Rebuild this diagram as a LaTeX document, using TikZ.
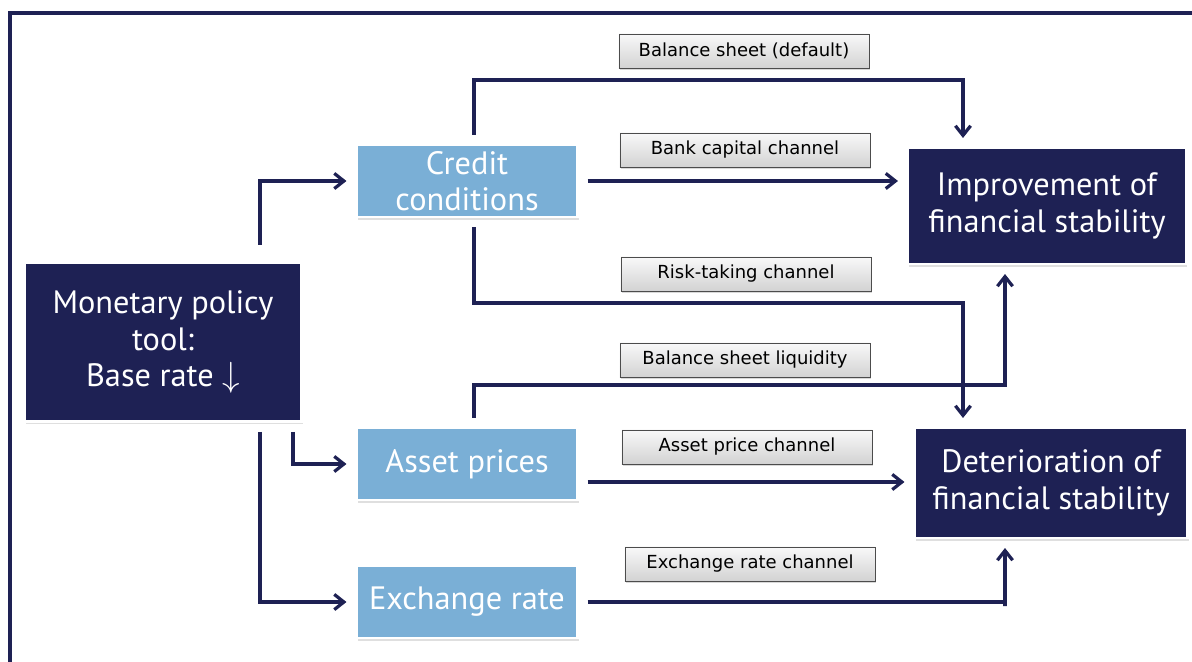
\documentclass[tikz,border=0pt]{standalone}
\usepackage{fontspec}
\setmainfont{PT Sans}
\newfontfamily\labelfont{DejaVu Sans}
\usetikzlibrary{arrows.meta,shadows}
\definecolor{navy}{HTML}{1E2154}
\definecolor{skyblue}{HTML}{7AAFD6}

\begin{document}
\begin{tikzpicture}[x=0.025cm,y=0.025cm,
    darkbox/.style={fill=navy, draw=white, line width=1.5pt, text=white, align=center,
        font=\fontsize{23}{26}\selectfont, inner sep=2pt, outer sep=0.25cm,
        drop shadow={shadow xshift=1pt, shadow yshift=-2pt, opacity=0.25}},
    lightbox/.style={fill=skyblue, draw=white, line width=1.5pt, text=white, align=center,
        font=\fontsize{23}{26}\selectfont, inner sep=2pt, outer sep=0.25cm,
        minimum width=5.525cm, minimum height=1.8cm,
        drop shadow={shadow xshift=1pt, shadow yshift=-2pt, opacity=0.25}},
    tag/.style={top color=blue!3!gray!5, bottom color=gray!35, draw=gray!60!black, line width=0.6pt,
        font=\labelfont\fontsize{12.8}{14}\selectfont, minimum width=6.25cm, minimum height=0.85cm,
        drop shadow={shadow xshift=1pt, shadow yshift=-1.5pt, opacity=0.3}},
    arr/.style={draw=navy, line width=2.3pt, -{Straight Barb[length=2.4mm,width=3.8mm]}}]

    % page and frame
    \clip (0,0) rectangle (1192,-662);
    \fill[white] (0,0) rectangle (1192,-662);
    \draw[navy, line width=2.2pt] (10,-13) rectangle (1230,-700);

    % boxes
    \node[darkbox, minimum width=6.925cm, minimum height=3.975cm] (tool) at (163,-342)
        {Monetary policy\\tool:\\Base rate $\downarrow$};
    \node[lightbox] (credit) at (467,-181) {Credit\\conditions};
    \node[lightbox] (asset) at (467,-464) {Asset prices};
    \node[lightbox] (exch) at (467,-602) {Exchange rate};
    \node[darkbox, minimum width=6.95cm, minimum height=2.9cm] (improve) at (1047,-206)
        {Improvement of\\financial stability};
    \node[darkbox, minimum width=6.825cm, minimum height=2.75cm] (deter) at (1051,-483)
        {Deterioration of\\financial stability};

    % channel labels
    \node[tag] (default) at (744,-51) {Balance sheet (default)};
    \node[tag] (capital) at (745,-150) {Bank capital channel};
    \node[tag] (risk) at (746,-274) {Risk-taking channel};
    \node[tag] (liquid) at (745,-360) {Balance sheet liquidity};
    \node[tag] (aprice) at (747,-447) {Asset price channel};
    \node[tag] (xrate) at (750,-564) {Exchange rate channel};

    % bends
    \coordinate (toolup) at (260,-245);
    \coordinate (tooldown) at (260,-432);
    \coordinate (tooldown2) at (293,-432);
    \coordinate (midx) at (474,0);
    \coordinate (aprow) at (0,-482);
    \coordinate (dftbend) at (963,-80);
    \coordinate (riskbend) at (963,-303);
    \coordinate (liqbend) at (1005,-385);
    \coordinate (xrbend) at (1005,-606);

    % connectors from the tool
    \draw[arr] (toolup) |- (credit.west);
    \draw[arr] (tooldown2) |- (asset.west);
    \draw[arr] (tooldown) |- (exch.west);

    % channels
    \draw[arr] (credit.north -| midx) |- (dftbend) -- (dftbend |- improve.north);
    \draw[arr] (credit.east) -- (credit.east -| improve.west);
    \draw[arr] (credit.south -| midx) |- (riskbend) -- (riskbend |- deter.north);
    \draw[arr] (asset.north -| midx) |- (liqbend) -- (liqbend |- improve.south);
    \draw[arr] (asset.east |- aprow) -- (aprow -| deter.west);
    \draw[arr] (exch.east) -| (xrbend) -- (xrbend |- deter.south);
\end{tikzpicture}
\end{document}
